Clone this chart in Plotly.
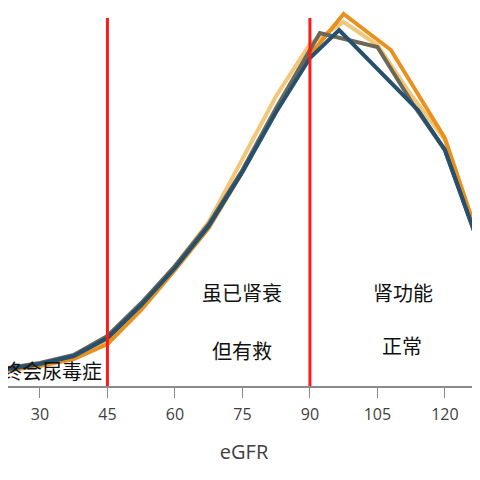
import plotly.graph_objects as go

# eGFR distribution curves (y in arbitrary % units)
x_blue = [20, 30, 37.5, 45, 52.5, 60, 67.5, 75, 82.5, 90, 96.5, 114, 120, 128, 136]
y_blue = [0.75, 1.1, 1.5, 2.4, 4.05, 5.9, 8.0, 10.7, 13.7, 16.4, 17.8, 13.8, 11.8, 6.8, 2.3]

x_grey = [20, 30, 37.5, 45, 52.5, 60, 67.5, 75, 82.5, 92.2, 105, 113, 120, 128, 136]
y_grey = [0.8, 1.15, 1.55, 2.5, 4.15, 6.0, 8.1, 10.8, 13.9, 17.65, 16.95, 14.05, 11.8, 6.8, 2.3]

x_orange = [20, 30, 37.5, 45, 52.5, 60, 67.5, 75, 82.5, 90, 97.5, 108, 120, 128, 136]
y_orange = [0.7, 1.0, 1.35, 2.1, 3.8, 5.8, 7.9, 10.7, 13.8, 16.55, 18.6, 16.8, 12.4, 7.05, 2.55]

x_light = [20, 30, 37.5, 45, 52.5, 60, 67.5, 75, 82.5, 90, 97.5, 105, 112.5, 120, 128, 136]
y_light = [0.75, 1.05, 1.45, 2.3, 4.0, 6.0, 8.2, 11.3, 14.5, 17.1, 18.2, 17.05, 14.55, 12.3, 6.9, 2.4]

cutoffs = [45, 90]
tick_vals = [30, 45, 60, 75, 90, 105, 120]
tick_text = ["30", "45", "60", "75", "90", "105", "120"]

labels = [
    ("最终会尿毒症", 44.3, 0.8, "right"),
    ("虽已肾衰", 75.0, 4.7, "center"),
    ("但有救", 75.0, 1.8, "center"),
    ("肾功能", 110.6, 4.7, "center"),
    ("正常", 110.4, 2.05, "center"),
]

fig = go.Figure()
series = [
    (x_light, y_light, "#f2c77a"),
    (x_orange, y_orange, "#e8911f"),
    (x_grey, y_grey, "#6f6755"),
    (x_blue, y_blue, "#25506f"),
]
for xs, ys, c in series:
    fig.add_trace(go.Scatter(x=xs, y=ys, mode="lines",
                             line=dict(color=c, width=4), showlegend=False,
                             hoverinfo="skip"))

for c in cutoffs:
    fig.add_shape(type="line", x0=c, x1=c, y0=0, y1=18.4, xref="x", yref="y",
                  line=dict(color="#ff1a1a", width=3))

for t, x, y, anc in labels:
    fig.add_annotation(text=t, x=x, y=y, xref="x", yref="y", showarrow=False,
                       xanchor=anc, yanchor="middle",
                       font=dict(family="Noto Sans CJK SC", size=20, color="#111111"))

fig.update_layout(
    width=472, height=464,
    margin=dict(l=0, r=0, t=0, b=86, autoexpand=False),
    plot_bgcolor="white", paper_bgcolor="white",
    font=dict(family="Open Sans, DejaVu Sans", color="#404040"),
)
fig.update_xaxes(range=[22.9, 127.8], tickvals=tick_vals, ticktext=tick_text,
                 automargin=False,
                 showgrid=False, zeroline=False, showline=True, linecolor="#8a8a8a",
                 linewidth=1.5, ticks="outside", ticklen=10, tickcolor="#8a8a8a",
                 tickfont=dict(size=16, color="#404040"), ticklabelstandoff=3,
                 title=dict(text="eGFR", font=dict(size=20, color="#404040"), standoff=21))
fig.update_yaxes(range=[0, 18.9], visible=False, showgrid=False, automargin=False)

fig.write_html("out.html")
